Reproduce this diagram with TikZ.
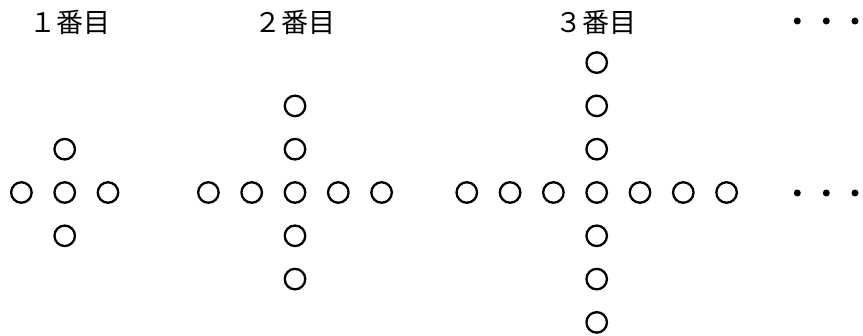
\documentclass[tikz,border=0pt]{standalone}
\usepackage{fontspec}
\newfontfamily\jpfont{Noto Sans CJK JP}

\begin{document}
\begin{tikzpicture}[x=1pt,y=-1pt,
  maru/.style={draw,circle,line width=2.3pt,minimum size=20.5pt,inner sep=0pt},
  kuro/.style={fill,circle,minimum size=7pt,inner sep=0pt},
  midashi/.style={font=\jpfont\fontsize{27}{27}\selectfont,inner sep=0pt}]
\useasboundingbox (0,0) rectangle (863,336);
\foreach \n/\cx/\k/\lx/\zen in {1/64.7/1/70/１, 2/295/2/295/２, 3/596.7/3/596/３} {
  \node[midashi] (label\n) at (\lx,22) {\zen 番目};
  \node[maru] (c\n) at (\cx,192.5) {};
  \foreach \i in {1,...,\k} {
    \node[maru] (c\n l\i) at (\cx-43.3*\i,192.5) {};
    \node[maru] (c\n r\i) at (\cx+43.3*\i,192.5) {};
    \node[maru] (c\n u\i) at (\cx,192.5-43.3*\i) {};
    \node[maru] (c\n d\i) at (\cx,192.5+43.3*\i) {};
  }
}
\foreach \j/\dx in {1/797.3, 2/826.3, 3/855} {
  \node[kuro] (ue\j) at (\dx,21) {};
  \node[kuro] (shita\j) at (\dx,193) {};
}
\end{tikzpicture}
\end{document}
